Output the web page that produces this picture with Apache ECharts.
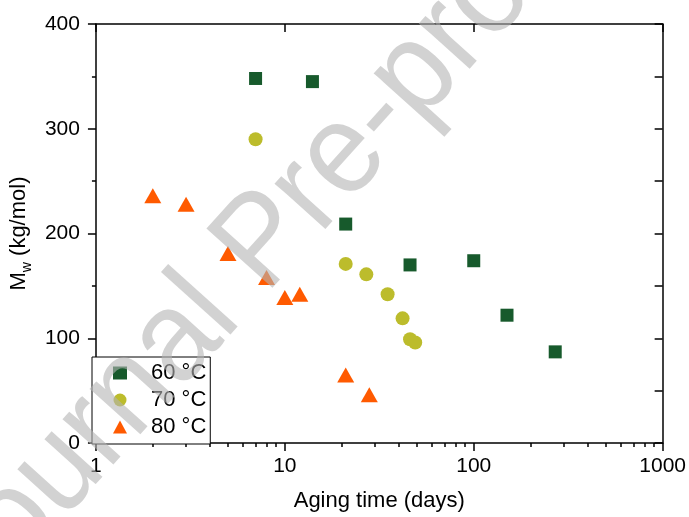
<!DOCTYPE html>
<html><head><meta charset="utf-8">
<script src="https://cdn.jsdelivr.net/npm/echarts@6/dist/echarts.min.js"></script>
<style>html,body{margin:0;padding:0;background:#fff}#c{width:689px;height:517px}</style>
</head><body><div id="c"></div>
<script>
// ---- data ----
const seriesNames = ['60 °C', '70 °C', '80 °C'];
const days60 = [7, 14, 21, 46, 100, 150, 270];
const mw60   = [348, 345, 209, 170, 174, 122, 87];
const days70 = [7, 21, 27, 35, 42, 46, 49];
const mw70   = [290, 171, 161, 142, 119, 99, 96];
const days80 = [2, 3, 5, 8, 10, 12, 21, 28];
const mw80   = [236, 228, 181, 158, 139, 142, 65, 46];
const xTickLabels = ['1', '10', '100', '1000'];
const yTickLabels = ['0', '100', '200', '300', '400'];
const minorDecadeSteps = [2, 3, 4, 5, 6, 7, 8, 9];

const FONT = 'Liberation Sans, Arial, Helvetica, sans-serif';
const BLACK = '#000';
const pairs = (xs, ys) => xs.map((x, i) => [x, ys[i]]);
const minorLogPositions = [];
for (let d = 0; d < 3; d++) minorDecadeSteps.forEach(k => minorLogPositions.push(d + Math.log10(k)));

const lineStyle = { color: BLACK, width: 1.5 };
const chart = echarts.init(document.getElementById('c'), null, { renderer: 'canvas' });
chart.setOption({
  backgroundColor: '#fff',
  animation: false,
  grid: { left: 92, right: 26, top: 24, bottom: 73, containLabel: false },
  xAxis: [
    { type: 'log', logBase: 10, min: 1, max: 1000, position: 'bottom',
      axisLine: { show: true, onZero: false, lineStyle },
      axisTick: { show: true, inside: false, length: 8, lineStyle },
      axisLabel: { color: BLACK, fontSize: 21, fontFamily: FONT, margin: 13,
                   formatter: (v, i) => xTickLabels[i] },
      splitLine: { show: false },
      name: 'Aging time (days)', nameLocation: 'middle', nameGap: 47,
      nameTextStyle: { color: BLACK, fontSize: 22, fontFamily: FONT } },
    { type: 'value', min: 0, max: 3, position: 'bottom',
      axisLine: { show: false },
      axisTick: { show: true, inside: false, length: 4, customValues: minorLogPositions, lineStyle },
      axisLabel: { show: false }, splitLine: { show: false } },
    { type: 'log', logBase: 10, min: 1, max: 1000, position: 'top',
      axisLine: { show: true, onZero: false, lineStyle },
      axisTick: { show: true, inside: true, length: 8, lineStyle },
      axisLabel: { show: false }, splitLine: { show: false } },
    { type: 'value', min: 0, max: 3, position: 'top',
      axisLine: { show: false },
      axisTick: { show: true, inside: true, length: 4, customValues: minorLogPositions, lineStyle },
      axisLabel: { show: false }, splitLine: { show: false } }
  ],
  yAxis: [
    { type: 'value', min: 0, max: 400, interval: 100, position: 'left',
      axisLine: { show: true, onZero: false, lineStyle },
      axisTick: { show: true, inside: false, length: 8, lineStyle },
      minorTick: { show: true, splitNumber: 2, length: 4, lineStyle },
      axisLabel: { color: BLACK, fontSize: 21, fontFamily: FONT, margin: 16,
                   formatter: (v, i) => yTickLabels[i] },
      splitLine: { show: false }, minorSplitLine: { show: false },
      name: '{m|M}{s|w}{m| (kg/mol)}', nameLocation: 'middle', nameGap: 58, nameRotate: 90,
      nameTextStyle: { color: BLACK, fontFamily: FONT,
        rich: {
          m: { fontSize: 22, lineHeight: 22, verticalAlign: 'top', color: BLACK, fontFamily: FONT },
          s: { fontSize: 14, lineHeight: 14, padding: [12, 0, 0, 0], verticalAlign: 'top', color: BLACK, fontFamily: FONT }
        } } },
    { type: 'value', min: 0, max: 400, interval: 50, position: 'right',
      axisLine: { show: true, onZero: false, lineStyle },
      axisTick: { show: true, inside: true, length: 8, lineStyle },
      axisLabel: { show: false }, splitLine: { show: false } }
  ],
  legend: {
    orient: 'vertical', left: 92, top: 357,
    padding: [5, 4, 6, 21], itemGap: 5,
    itemWidth: 14, itemHeight: 13,
    borderColor: BLACK, borderWidth: 1, backgroundColor: '#fff',
    textStyle: { color: BLACK, fontSize: 22, fontFamily: FONT, padding: [0, 0, 0, 19] },
    data: seriesNames
  },
  series: [
    { name: seriesNames[0], type: 'scatter', xAxisIndex: 0, yAxisIndex: 0,
      symbol: 'rect', symbolSize: 13, itemStyle: { color: '#175a2c', opacity: 1 },
      data: pairs(days60, mw60) },
    { name: seriesNames[1], type: 'scatter', xAxisIndex: 0, yAxisIndex: 0,
      symbol: 'circle', symbolSize: 14, itemStyle: { color: '#bcbc2c', opacity: 1 },
      data: pairs(days70, mw70) },
    { name: seriesNames[2], type: 'scatter', xAxisIndex: 0, yAxisIndex: 0,
      symbol: 'triangle', symbolSize: [17, 15], itemStyle: { color: '#ff5a00', opacity: 1 },
      data: pairs(days80, mw80) }
  ],
  graphic: [
    { type: 'text', x: 264, y: 244, rotation: 48 * Math.PI / 180, scaleX: 0.94, z: 100, silent: true,
      style: { text: 'Journal Pre-proof', fontSize: 129, fontFamily: FONT,
               fill: 'rgba(180,180,180,0.6)', align: 'center', verticalAlign: 'middle' } }
  ]
});
</script>
</body></html>
